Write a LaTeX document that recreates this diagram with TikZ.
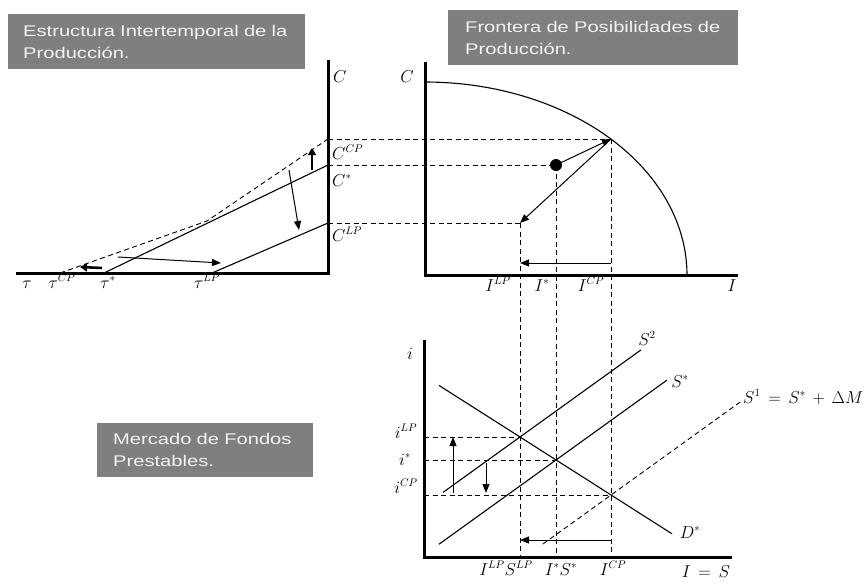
\documentclass[tikz,border=0pt]{standalone}
\usepackage{fontspec}
\newfontfamily\titlefont[FakeStretch=1.3]{Liberation Sans}
\usetikzlibrary{arrows.meta}
\definecolor{boxgray}{HTML}{7F7F7F}
\definecolor{boxtext}{HTML}{F2F2F2}
\begin{document}
\begin{tikzpicture}[x=1pt,y=-1pt,
  axis/.style={line width=3pt, line join=miter},
  curve/.style={line width=1.1pt},
  guide/.style={line width=0.9pt, dash pattern=on 5pt off 3.5pt},
  arr/.style={line width=1pt, -{Triangle[length=9pt,width=7pt]}},
  bigarr/.style={line width=2.6pt, -{Triangle[length=7pt,width=8pt]}},
  lab/.style={inner sep=0pt, font=\fontsize{16}{19}\selectfont},
  titlebox/.style={fill=boxgray, text=boxtext, anchor=north west, inner ysep=0pt,
     font=\titlefont\fontsize{15.5}{22}\selectfont, align=left}]
\useasboundingbox (0,0) rectangle (865,584);

% ---------- titles ----------
\node[titlebox, minimum width=297pt, minimum height=55pt, inner xsep=15pt, text width=267pt]
  (t1) at (8,14) {Estructura Intertemporal de la\\Producción.};
\node[titlebox, minimum width=290pt, minimum height=55pt, inner xsep=17pt, text width=256pt]
  (t2) at (448,10) {Frontera de Posibilidades de\\Producción.};
\node[titlebox, minimum width=216pt, minimum height=54pt, inner xsep=16pt, text width=184pt]
  (t3) at (97,423) {Mercado de Fondos\\Prestables.};

% ---------- left panel ----------
\coordinate (LO) at (328,273);
\coordinate (Ltop) at (328,60);
\coordinate (Lleft) at (16,273);
\coordinate (CCP) at (328,139);
\coordinate (Cst) at (328,165);
\coordinate (CLP) at (328,223);
\coordinate (tauCP) at (60,273);
\coordinate (taust) at (104,273);
\coordinate (tauLP) at (212,273);
\coordinate (kink) at (207,221);
\draw[axis] (Ltop) -- (LO) -- (Lleft);
\draw[curve] (taust) -- (Cst);
\draw[curve] (tauLP) -- (CLP);
\draw[guide] (tauCP) -- (kink) -- (CCP);

\coordinate (a1s) at (312,170); \coordinate (a1e) at (312,148);
\coordinate (a2s) at (289,170); \coordinate (a2e) at (299,230);
\coordinate (a3s) at (118,257); \coordinate (a3e) at (221,263);
\coordinate (a4s) at (102,268); \coordinate (a4e) at (80,267);
\draw[bigarr] (a1s) -- (a1e);
\draw[arr] (a2s) -- (a2e);
\draw[arr] (a3s) -- (a3e);
\draw[bigarr] (a4s) -- (a4e);

\node[lab, anchor=west] (lC) at (333,77) {$C$};
\node[lab, anchor=base west] (lCCP) at (332,159) {$C^{CP}$};
\node[lab, anchor=base west] (lCst) at (332,186) {$C^{*}$};
\node[lab, anchor=base west] (lCLP) at (332,241) {$C^{LP}$};
\node[lab, anchor=base] (ltau) at (27,288) {$\tau$};
\node[lab, anchor=base] (ltauCP) at (62,288) {$\tau^{CP}$};
\node[lab, anchor=base] (ltaust) at (108,288) {$\tau^{*}$};
\node[lab, anchor=base] (ltauLP) at (207,288) {$\tau^{LP}$};

% ---------- right panel (FPP) ----------
\coordinate (RO) at (425,275);
\coordinate (Rtop) at (425,62);
\coordinate (Rright) at (738,275);
\coordinate (FCP) at (611,139);
\coordinate (Fst) at (556,165);
\coordinate (FLP) at (520,223);
\draw[axis] (Rtop) -- (RO) -- (Rright);
\draw[curve] plot[domain=90:0, samples=80] ({425+262*cos(\x)}, {275-193*sin(\x)});
\draw[guide] (CCP) -- (FCP);
\draw[guide] (Cst) -- (Fst);
\draw[guide] (CLP) -- (FLP);
\fill (Fst) circle[radius=6pt];
\draw[arr] (Fst) -- (FCP);
\draw[arr] (FCP) -- (FLP);
\coordinate (h1s) at (611,263); \coordinate (h1e) at (520,263);
\draw[arr] (h1s) -- (h1e);

\node[lab] (rC) at (407,77) {$C$};
\node[lab, anchor=base] (lILP) at (498,291) {$I^{LP}$};
\node[lab, anchor=base] (lIst) at (542,291) {$I^{*}$};
\node[lab, anchor=base] (lICP) at (591,291) {$I^{CP}$};
\node[lab, anchor=base] (lI) at (732,291) {$I$};

% ---------- bottom panel ----------
\coordinate (BO) at (424,557);
\coordinate (Btop) at (424,340);
\coordinate (Bright) at (732,557);
\coordinate (ELP) at (520,437);
\coordinate (Est) at (556,460);
\coordinate (ECP) at (611,495);
\coordinate (bLP) at (520,557);
\coordinate (bst) at (556,557);
\coordinate (bCP) at (611,557);
\coordinate (yLP) at (424,437);
\coordinate (yst) at (424,460);
\coordinate (yCP) at (424,495);
\draw[axis] (Btop) -- (BO) -- (Bright);

\draw[guide] (FLP) -- (bLP);
\draw[guide] (Fst) -- (bst);
\draw[guide] (FCP) -- (bCP);
\draw[guide] (yLP) -- (ELP);
\draw[guide] (yst) -- (Est);
\draw[guide] (yCP) -- (ECP);

\coordinate (D1) at (439,385.4); \coordinate (D2) at (672,533.8);
\coordinate (S21) at (443,492.4); \coordinate (S22) at (641,349.9);
\coordinate (Ss1) at (439,544.2); \coordinate (Ss2) at (667,380.1);
\coordinate (S11) at (543,544); \coordinate (S12) at (742,400.7);
\draw[curve] (D1) -- (D2);
\draw[curve] (S21) -- (S22);
\draw[curve] (Ss1) -- (Ss2);
\draw[guide] (S11) -- (S12);

\coordinate (b1s) at (453,493); \coordinate (b1e) at (453,437);
\coordinate (b2s) at (486,463); \coordinate (b2e) at (486,493);
\coordinate (b3s) at (611,540); \coordinate (b3e) at (520,540);
\draw[arr] (b1s) -- (b1e);
\draw[arr] (b2s) -- (b2e);
\draw[arr] (b3s) -- (b3e);

\node[lab, anchor=base] (li) at (410,359) {$i$};
\node[lab, anchor=base] (liLP) at (406,438) {$i^{LP}$};
\node[lab, anchor=base] (list) at (405,465) {$i^{*}$};
\node[lab, anchor=base] (liCP) at (406,493) {$i^{CP}$};
\node[lab, anchor=base] (lS2) at (647,345) {$S^{2}$};
\node[lab, anchor=base] (lSst) at (680,387) {$S^{*}$};
\node[lab, anchor=base west] (lS1) at (743,403) {$S^{1}\,=\,S^{*}\,+\,\Delta M$};
\node[lab, anchor=base] (lD) at (690,538) {$D^{*}$};
\node[lab, anchor=base] (lILPSLP) at (506,575) {$I^{LP}S^{LP}$};
\node[lab, anchor=base] (lIS) at (561,575) {$I^{*}S^{*}$};
\node[lab, anchor=base] (lICPb) at (613,575) {$I^{CP}$};
\node[lab, anchor=base] (lIeqS) at (706,577) {$I\,=\,S$};
\end{tikzpicture}
\end{document}
